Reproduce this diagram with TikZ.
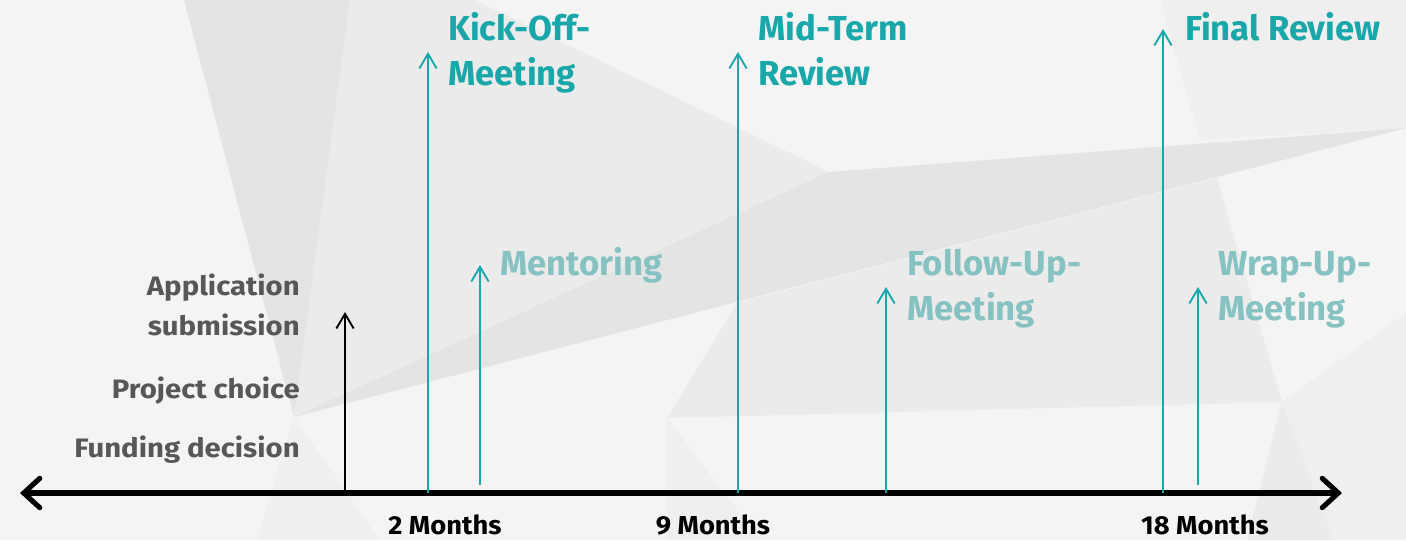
\documentclass[tikz,border=0pt]{standalone}
\usepackage{fontspec}
\setmainfont{Fira Sans}
\newfontfamily\bigfont{Fira Sans}[FakeStretch=1.0]
\newfontfamily\leftfont{Fira Sans}[FakeStretch=1.1]
\newfontfamily\monthfont{Fira Sans}[FakeStretch=1.05]
\usetikzlibrary{arrows.meta}
\definecolor{bg}{HTML}{F4F4F4}
\definecolor{bgA}{HTML}{E3E4E4}
\definecolor{bgB}{HTML}{EBEBEB}
\definecolor{bgC}{HTML}{EFEFEF}
\definecolor{teal}{HTML}{19A7AA}
\definecolor{lteal}{HTML}{86C2C1}
\definecolor{gtext}{HTML}{555759}
\tikzset{
  big/.style={font=\bigfont\fontsize{26}{30}\selectfont\bfseries, text=teal, inner sep=0pt},
  small/.style={font=\bigfont\fontsize{26}{30}\selectfont\bfseries, text=lteal, inner sep=0pt},
  left/.style={font=\leftfont\fontsize{20}{24}\selectfont\bfseries, text=gtext, inner sep=0pt},
  month/.style={font=\monthfont\fontsize{19.5}{23}\selectfont\bfseries, text=black, inner sep=0pt},
  evt/.style={draw=teal, line width=1.9pt, -{Straight Barb[length=11pt,width=13pt,line width=1.4pt]}},
  blk/.style={draw=black, line width=1.9pt, -{Straight Barb[length=11pt,width=13pt,line width=1.4pt]}},
  axis/.style={draw=black, line width=3.8pt, {Straight Barb[length=12pt,width=22pt,line cap=round]}-{Straight Barb[length=12pt,width=22pt,line cap=round]}},
}
\begin{document}
\begin{tikzpicture}[x=0.75pt,y=-0.75pt]
\useasboundingbox (0,0) rectangle (1406,540);
% background
\fill[bg] (0,0) rectangle (1406,540);
\fill[bgB] (350,0) -- (475,0) -- (829,172) -- (294,417) -- cycle;
\fill[bgC] (1160,0) -- (1406,0) -- (1406,128) -- (1200,140) -- cycle;
\fill[bgB] (667,418) -- (737,303) -- (1217,178) -- (1282,402) -- cycle;
\fill[bgC] (1282,402) -- (1406,313) -- (1406,540) -- (1333,540) -- cycle;
\fill[bgB] (1282,402) -- (1333,540) -- (1247,540) -- cycle;
\fill[bgC] (294,417) -- (257,540) -- (380,540) -- cycle;
\fill[bgC] (667,418) -- (667,540) -- (760,540) -- cycle;
\fill[bgA] (184,0) -- (350,0) -- (294,417) -- cycle;
\fill[bgA] (294,417) -- (829,172) -- (1406,128) -- cycle;
% axis
\coordinate (L) at (20,493);
\coordinate (R) at (1342,493);
\draw[axis] (L) -- (R);
% event coordinates
\coordinate (a0) at (345,493); \coordinate (a1) at (345,312);
\coordinate (k0) at (428,493); \coordinate (k1) at (428,52);
\coordinate (m0) at (480,485); \coordinate (m1) at (480,265);
\coordinate (t0) at (738,493); \coordinate (t1) at (738,52);
\coordinate (f0) at (886,493); \coordinate (f1) at (886,287);
\coordinate (r0) at (1163,493); \coordinate (r1) at (1163,29);
\coordinate (w0) at (1198,485); \coordinate (w1) at (1198,287);
\draw[blk] (a0) -- (a1);
\draw[evt] (k0) -- (k1);
\draw[evt] (m0) -- (m1);
\draw[evt] (t0) -- (t1);
\draw[evt] (f0) -- (f1);
\draw[evt] (r0) -- (r1);
\draw[evt] (w0) -- (w1);
% labels
\node[big, anchor=base west] (kick1) at (448,40) {Kick-Off-};
\node[big, anchor=base west] (kick2) at (448,85) {Meeting};
\node[big, anchor=base west] (mid1) at (758,40) {Mid-Term};
\node[big, anchor=base west] (mid2) at (758,85) {Review};
\node[big, anchor=base west] (fin) at (1185,40) {Final Review};
\node[small, anchor=base west] (ment) at (500,275) {Mentoring};
\node[small, anchor=base west] (fol1) at (907,275) {Follow-Up-};
\node[small, anchor=base west] (fol2) at (907,320) {Meeting};
\node[small, anchor=base west] (wr1) at (1218,275) {Wrap-Up-};
\node[small, anchor=base west] (wr2) at (1218,320) {Meeting};
\node[left, anchor=base east] (app1) at (300,295) {Application};
\node[left, anchor=base east] (app2) at (300,335) {submission};
\node[left, anchor=base east] (proj) at (300,398) {Project choice};
\node[left, anchor=base east] (fund) at (300,457) {Funding decision};
\node[month, anchor=base] (m2) at (445,534) {2 Months};
\node[month, anchor=base] (m9) at (713,534) {9 Months};
\node[month, anchor=base] (m18) at (1205,534) {18 Months};
\end{tikzpicture}
\end{document}
